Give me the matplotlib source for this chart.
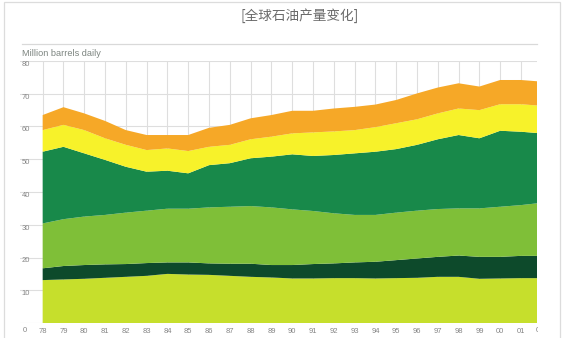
import matplotlib
matplotlib.use("Agg")
import matplotlib.pyplot as plt
from matplotlib.lines import Line2D
from matplotlib.patches import Rectangle
from matplotlib.transforms import Bbox

# years on the x axis (last point is where the picture is cut off)
years = [1978, 1979, 1980, 1981, 1982, 1983, 1984, 1985, 1986, 1987, 1988, 1989,
         1990, 1991, 1992, 1993, 1994, 1995, 1996, 1997, 1998, 1999, 2000, 2001, 2002]
year_labels = ['78', '79', '80', '81', '82', '83', '84', '85', '86', '87', '88', '89',
               '90', '91', '92', '93', '94', '95', '96', '97', '98', '99', '00', '01']

# layer thickness, million barrels daily, bottom to top
layer1 = [13.1, 13.3, 13.5, 13.8, 14.1, 14.4, 15.0, 14.8, 14.7, 14.4, 14.1, 13.9,
          13.6, 13.6, 13.7, 13.7, 13.6, 13.7, 13.8, 14.1, 14.1, 13.5, 13.6, 13.7, 13.7]
layer2 = [3.6, 4.1, 4.2, 4.1, 3.9, 3.9, 3.5, 3.7, 3.5, 3.7, 4.0, 3.8,
          4.1, 4.4, 4.5, 4.8, 5.1, 5.5, 5.9, 6.1, 6.5, 6.7, 6.6, 6.8, 6.8]
layer3 = [13.7, 14.3, 14.8, 15.1, 15.7, 16.0, 16.4, 16.4, 17.1, 17.4, 17.6, 17.6,
          17.0, 16.2, 15.3, 14.5, 14.3, 14.5, 14.6, 14.6, 14.4, 14.8, 15.3, 15.5, 16.2]
layer4 = [21.9, 22.1, 19.3, 16.8, 14.0, 11.9, 11.6, 10.8, 12.9, 13.3, 14.6, 15.5,
          16.8, 16.8, 17.8, 18.8, 19.3, 19.4, 20.1, 21.3, 22.4, 21.4, 23.2, 22.4, 21.2]
layer5 = [6.6, 6.7, 7.1, 6.6, 6.7, 6.6, 6.8, 6.8, 5.6, 5.6, 5.8, 6.1,
          6.4, 7.2, 7.2, 7.1, 7.5, 7.9, 7.8, 7.9, 8.1, 8.6, 8.1, 8.4, 8.4]
layer6 = [4.6, 5.4, 5.1, 5.3, 4.5, 4.6, 4.1, 4.9, 5.8, 6.1, 6.4, 6.6,
          6.9, 6.6, 7.0, 7.1, 6.9, 7.1, 7.9, 7.9, 7.7, 7.2, 7.4, 7.4, 7.4]

colors = ['#c6df2c', '#0d4a2b', '#7fbf38', '#18894a', '#f7f22a', '#f6a827']
yticks = [0, 10, 20, 30, 40, 50, 60, 70, 80]

W, H = 568, 338
fig = plt.figure(figsize=(W / 100, H / 100), dpi=100)
fig.patch.set_facecolor('white')

# outer frame and the rule above the unit label
fig.add_artist(Rectangle((4 / W, -0.1), 556 / W, 1.1 - 2 / H, transform=fig.transFigure,
                         fill=False, edgecolor='#dcdcdc', lw=0.9))
fig.add_artist(Line2D([22 / W, 537 / W], [1 - 44 / H, 1 - 44 / H], transform=fig.transFigure,
                      color='#d9d9d9', lw=0.9))

fig.text(300 / W, 1 - 16 / H, '[全球石油产量变化]', ha='center', va='center',
         fontsize=9.8, color='#6a6a6a', family=['Noto Sans CJK SC', 'DejaVu Sans'])
fig.text(22 / W, 1 - 54 / H, 'Million barrels daily', ha='left', va='center',
         fontsize=6.6, color='#7d8580', family='Liberation Sans')

ax = fig.add_axes([20 / W, 1 - 323 / H, 517 / W, 262 / H])
ax.stackplot(years, layer1, layer2, layer3, layer4, layer5, layer6, colors=colors, lw=0)

ax.set_xlim(1976.91, 2001.77)
ax.set_ylim(0, 80)
ax.set_axisbelow(True)
ax.set_xticks(years[:-1])
ax.set_xticklabels(year_labels)
ax.set_yticks(yticks)
ax.set_yticklabels([''] + [str(v) for v in yticks[1:]])
ax.grid(True, color='#dedede', lw=0.8)
for s in ax.spines.values():
    s.set_visible(False)

ax.tick_params(axis='x', length=0, pad=3.6, labelsize=5.5, labelcolor='#858585')
ax.tick_params(axis='y', length=0, pad=-1, labelsize=5.5, labelcolor='#858585')
for lbl in ax.get_yticklabels():
    lbl.set_ha('left')
    lbl.set_va('top')
    lbl.set_family('Liberation Sans')
for lbl in ax.get_xticklabels():
    lbl.set_family('Liberation Sans')

xt = ax.get_xaxis_transform()
ax.text(1977.15, -0.014, '0', transform=xt, ha='center', va='top', fontsize=5.5,
        color='#858585', family='Liberation Sans', clip_on=False)
# the "02" label is cut by the edge of the picture; only its first stroke shows
cut = ax.text(2001.72, -0.014, '02', transform=xt, ha='left', va='top', fontsize=5.5,
              color='#858585', family='Liberation Sans')
cut.set_clip_box(Bbox.from_extents(0, 0, 538, H))
cut.set_clip_on(True)

fig.savefig('out.png', dpi=100)
